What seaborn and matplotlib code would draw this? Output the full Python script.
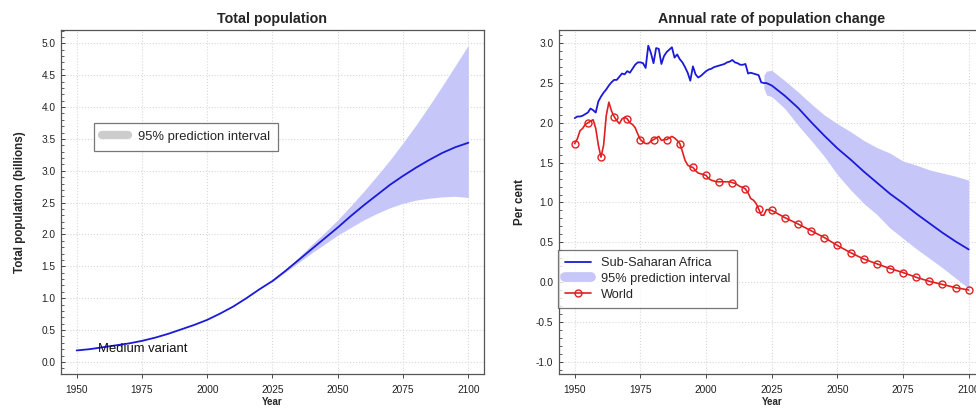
import matplotlib
matplotlib.use("Agg")
import matplotlib.pyplot as plt
from matplotlib.lines import Line2D
from matplotlib.ticker import MultipleLocator
import seaborn as sns
import pandas as pd

# ---------------- data ----------------
pop_years = list(range(1950, 2101, 5))
pop_median = [0.18, 0.20, 0.23, 0.26, 0.29, 0.33, 0.38, 0.44, 0.51, 0.58,
              0.66, 0.76, 0.87, 1.00, 1.14, 1.27, 1.43, 1.60, 1.77, 1.94,
              2.11, 2.29, 2.46, 2.62, 2.78, 2.92, 3.05, 3.17, 3.28, 3.37, 3.44]
pop_pi_years = list(range(2025, 2101, 5))
pop_lower = [1.26, 1.41, 1.56, 1.71, 1.85, 1.99, 2.11, 2.23, 2.33, 2.42,
             2.49, 2.54, 2.57, 2.59, 2.60, 2.58]
pop_upper = [1.28, 1.45, 1.64, 1.84, 2.03, 2.23, 2.45, 2.68, 2.92, 3.17,
             3.44, 3.72, 4.02, 4.33, 4.65, 4.97]

ssa_years = list(range(1950, 2024)) + list(range(2025, 2101, 5))
ssa_rate = [2.06, 2.08, 2.08, 2.09, 2.11, 2.13, 2.18, 2.16, 2.13, 2.27,
            2.33, 2.38, 2.42, 2.47, 2.51, 2.54, 2.54, 2.58, 2.62, 2.61,
            2.65, 2.63, 2.68, 2.73, 2.76, 2.76, 2.75, 2.69, 2.97, 2.88,
            2.75, 2.94, 2.93, 2.74, 2.84, 2.89, 2.92, 2.95, 2.82, 2.86,
            2.80, 2.76, 2.70, 2.63, 2.53, 2.71, 2.61, 2.57, 2.59, 2.62,
            2.65, 2.67, 2.68, 2.70, 2.71, 2.72, 2.73, 2.74, 2.76, 2.77,
            2.79, 2.76, 2.75, 2.73, 2.73, 2.74, 2.62, 2.63, 2.62, 2.61,
            2.60, 2.51, 2.50, 2.50,
            2.47, 2.34, 2.19, 2.01, 1.84, 1.68, 1.54, 1.39, 1.25, 1.11,
            0.99, 0.86, 0.74, 0.62, 0.51, 0.41]
ssa_pi_years = [2022, 2023] + list(range(2025, 2101, 5))
ssa_lower = [2.44, 2.35, 2.33, 2.18, 1.97, 1.78, 1.58, 1.35, 1.16, 0.99,
             0.85, 0.68, 0.55, 0.42, 0.30, 0.18, 0.05, -0.08]
ssa_upper = [2.60, 2.65, 2.66, 2.53, 2.39, 2.24, 2.10, 1.99, 1.89, 1.78,
             1.69, 1.62, 1.52, 1.47, 1.41, 1.37, 1.33, 1.28]

world_years = list(range(1950, 2026)) + list(range(2030, 2101, 5))
world_rate = [1.74, 1.80, 1.90, 1.93, 1.98, 2.00, 2.02, 2.04, 1.93, 1.72,
              1.57, 1.72, 2.09, 2.26, 2.15, 2.08, 2.03, 1.99, 2.05, 2.07,
              2.05, 2.00, 1.98, 1.94, 1.86, 1.79, 1.76, 1.74, 1.74, 1.77,
              1.79, 1.81, 1.83, 1.78, 1.79, 1.79, 1.81, 1.83, 1.81, 1.78,
              1.74, 1.64, 1.53, 1.47, 1.45, 1.44, 1.40, 1.37, 1.36, 1.35,
              1.34, 1.30, 1.28, 1.27, 1.26, 1.26, 1.26, 1.26, 1.26, 1.26,
              1.25, 1.24, 1.22, 1.20, 1.19, 1.17, 1.12, 1.05, 1.03, 0.99,
              0.92, 0.84, 0.84, 0.91, 0.91, 0.90,
              0.81, 0.73, 0.645, 0.56, 0.46, 0.37, 0.29, 0.23, 0.17, 0.12,
              0.06, 0.01, -0.03, -0.07, -0.10]

x_ticks = [1950, 1975, 2000, 2025, 2050, 2075, 2100]
titles = ["Total population", "Annual rate of population change"]
ylabels = ["Total population (billions)", "Per cent"]
xlabel = "Year"
series_labels = ["Sub-Saharan Africa", "95% prediction interval", "World"]
annot_text = "Medium variant"

# ---------------- style ----------------
sns.set_style("ticks")
plt.rcParams["font.family"] = ["Liberation Sans", "DejaVu Sans"]
plt.rcParams["axes.unicode_minus"] = False

BLUE = "#1a1ad8"
BAND = "#c6c6f8"
RED = "#e02020"

fig = plt.figure(figsize=(9.76, 4.08), dpi=100)
ax1 = fig.add_axes([0.0625, 0.0833, 0.4334, 0.8432])
ax2 = fig.add_axes([0.5727, 0.0833, 0.4360, 0.8432])


def style_axis(ax, ylim, ymajor):
    ax.set_xlim(1944, 2106)
    ax.set_ylim(*ylim)
    ax.set_xticks(x_ticks)
    ax.yaxis.set_major_locator(MultipleLocator(ymajor))
    ax.yaxis.set_minor_locator(MultipleLocator(0.1))
    ax.yaxis.set_major_formatter(matplotlib.ticker.FormatStrFormatter("%.1f"))
    ax.grid(True, which="major", color="#d8d8d8", ls=":", lw=0.8)
    ax.set_axisbelow(True)
    for s in ax.spines.values():
        s.set_visible(True)
        s.set_color("#555555")
        s.set_linewidth(0.9)
    ax.tick_params(axis="x", direction="out", length=3, width=0.7, pad=5,
                   labelsize=7.3, colors="#444444", labelcolor="#222222")
    ax.tick_params(axis="y", which="major", direction="in", length=3,
                   width=0.7, pad=4, labelsize=7.3, colors="#444444",
                   labelcolor="#222222")
    ax.tick_params(axis="y", which="minor", direction="in", length=1.8,
                   width=0.6, colors="#444444")
    ax.set_xlabel(xlabel, fontsize=7, fontweight="bold", labelpad=1)


# ---------------- left panel ----------------
ax1.fill_between(pop_pi_years, pop_lower, pop_upper, color=BAND, lw=0)
sns.lineplot(x=pop_years, y=pop_median, ax=ax1, color=BLUE, lw=1.3)
style_axis(ax1, (-0.19, 5.21), 0.5)
ax1.set_title(titles[0], fontsize=10.3, fontweight="bold", pad=5)
ax1.set_ylabel(ylabels[0], fontsize=8.4, fontweight="bold", labelpad=11)
ax1.text(1958, 0.21, annot_text, fontsize=9.4, va="center", ha="left",
         color="#111111")
h_grey = Line2D([], [], color="#cccccc", lw=6, solid_capstyle="round")
leg1 = ax1.legend([h_grey], [series_labels[1]], loc="upper left",
                  bbox_to_anchor=(0.078, 0.73), borderaxespad=0,
                  fontsize=9.4, frameon=True, fancybox=False,
                  borderpad=0.6, handlelength=2.0, handletextpad=0.8)
leg1.get_frame().set_edgecolor("#555555")
leg1.get_frame().set_linewidth(0.9)

# ---------------- right panel ----------------
ax2.fill_between(ssa_pi_years, ssa_lower, ssa_upper, color=BAND, lw=0)
sns.lineplot(x=ssa_years, y=ssa_rate, ax=ax2, color=BLUE, lw=1.3)
mark_idx = [i for i, y in enumerate(world_years) if y % 5 == 0]
sns.lineplot(x=world_years, y=world_rate, ax=ax2, color=RED, lw=1.2,
             marker="o", markevery=mark_idx, markersize=5,
             markerfacecolor="none", markeredgecolor=RED, markeredgewidth=1)
style_axis(ax2, (-1.155, 3.167), 0.5)
ax2.set_title(titles[1], fontsize=10.3, fontweight="bold", pad=5)
ax2.set_ylabel(ylabels[1], fontsize=8.4, fontweight="bold", labelpad=7)

h_blue = Line2D([], [], color=BLUE, lw=1.3)
h_band = Line2D([], [], color=BAND, lw=7, solid_capstyle="round")
h_red = Line2D([], [], color=RED, lw=1.2, marker="o", markersize=5,
               markerfacecolor="none", markeredgecolor=RED)
leg2 = ax2.legend([h_blue, h_band, h_red], series_labels, loc="upper left",
                  bbox_to_anchor=(-0.002, 0.3605), borderaxespad=0,
                  fontsize=9.2, frameon=True, fancybox=False,
                  borderpad=0.55, handlelength=2.0, handletextpad=0.8,
                  labelspacing=0.3)
leg2.get_frame().set_edgecolor("#555555")
leg2.get_frame().set_linewidth(0.9)

fig.savefig("out.png", dpi=100)
